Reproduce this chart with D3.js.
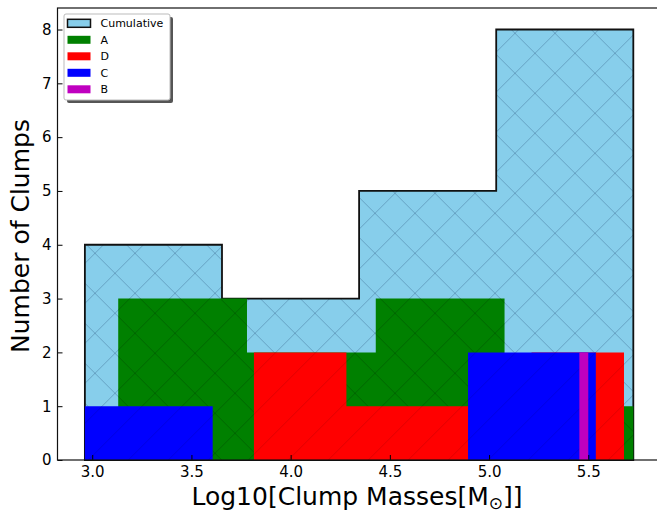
<!DOCTYPE html>
<html>
<head>
<meta charset="utf-8">
<script src="https://cdn.jsdelivr.net/npm/d3@7"></script>
<style>
  html, body { margin: 0; padding: 0; background: #fff; }
  svg { display: block; font-family: "DejaVu Sans", sans-serif; }
  .tick text { font-family: "DejaVu Sans", sans-serif; font-size: 15px; fill: #000; }
  .tick line { stroke: #000; stroke-width: 1; }
</style>
</head>
<body>
<svg id="chart" width="657" height="514"></svg>
<script>
// bin edges (log10 mass) and counts per histogram
const cumulativeEdges = [2.963, 3.654, 4.345, 5.036, 5.727];
const cumulativeCounts = [4, 3, 5, 8];
const aEdges = [3.131, 3.780, 4.429, 5.078, 5.727];
const aCounts = [3, 2, 3, 1];
const dEdges = [3.815, 4.281, 4.748, 5.214, 5.680];
const dCounts = [2, 1, 1, 2];
const cEdges = [2.963, 3.607, 4.251, 4.894, 5.538];
const cCounts = [1, 0, 0, 2];
const bEdges = [5.455, 5.500];
const bCounts = [2];

const xTicks = [3.0, 3.5, 4.0, 4.5, 5.0, 5.5];
const yTicks = [0, 1, 2, 3, 4, 5, 6, 7, 8];

const series = [
  { name: "Cumulative", edges: cumulativeEdges, counts: cumulativeCounts, color: "#87ceeb", hatch: "hatch-cum", outline: true },
  { name: "A", edges: aEdges, counts: aCounts, color: "#008000", hatch: "hatch-x-dark" },
  { name: "D", edges: dEdges, counts: dCounts, color: "#ff0000", hatch: "hatch-slash" },
  { name: "C", edges: cEdges, counts: cCounts, color: "#0000ff", hatch: "hatch-slash" },
  { name: "B", edges: bEdges, counts: bCounts, color: "#bf00bf", hatch: null }
];

const svg = d3.select("#chart");
const plot = { left: 57.5, top: 8, right: 660.7, bottom: 460 };

const x = d3.scaleLinear().domain([2.825, 5.865]).range([plot.left, plot.right]);
const y = d3.scaleLinear().domain([0, 8.4]).range([plot.bottom, plot.top]);

// hatch patterns (fixed origin so every histogram shares the same grid)
const defs = svg.append("defs");
function addHatch(id, color, both) {
  const p = defs.append("pattern")
    .attr("id", id)
    .attr("patternUnits", "userSpaceOnUse")
    .attr("x", 15).attr("y", 13.3)
    .attr("width", 40).attr("height", 40);
  p.append("path")
    .attr("d", "M-10,50 L50,-10 M-10,10 L10,-10 M30,50 L50,30")
    .attr("stroke", color).attr("stroke-width", 1).attr("fill", "none");
  if (both) {
    p.append("path")
      .attr("d", "M-10,-10 L50,50 M30,-10 L50,10 M-10,30 L10,50")
      .attr("stroke", color).attr("stroke-width", 1).attr("fill", "none");
  }
}
addHatch("hatch-cum", "rgba(40,80,120,0.35)", true);
addHatch("hatch-x-dark", "rgba(0,0,0,0.2)", true);
addHatch("hatch-slash", "rgba(0,0,0,0.12)", false);

// step outline of a histogram, closed along the baseline
function stepPath(edges, counts) {
  const pts = [[edges[0], 0]];
  counts.forEach((c, i) => {
    pts.push([edges[i], c]);
    pts.push([edges[i + 1], c]);
  });
  pts.push([edges[edges.length - 1], 0]);
  return d3.line().x(d => x(d[0])).y(d => y(d[1]))(pts);
}

const bars = svg.append("g").attr("class", "bars");
series.forEach(s => {
  const d = stepPath(s.edges, s.counts) + "Z";
  bars.append("path").attr("d", d).attr("fill", s.color);
  if (s.hatch) {
    bars.append("path").attr("d", d).attr("fill", `url(#${s.hatch})`);
  }
  if (s.outline) {
    bars.append("path").attr("d", d)
      .attr("fill", "none")
      .attr("stroke", "#111")
      .attr("stroke-width", 1.8)
      .attr("stroke-linejoin", "miter");
  }
});

// axes, ticks pointing inwards
svg.append("g")
  .attr("transform", `translate(0,${plot.bottom})`)
  .call(d3.axisBottom(x).tickValues(xTicks).tickFormat(d3.format(".1f"))
    .tickSizeInner(-5).tickSizeOuter(0).tickPadding(6))
  .call(g => g.attr("font-family", null).attr("font-size", null))
  .call(g => g.select(".domain").remove())
  .call(g => g.selectAll("text").attr("dy", "0.71em").attr("y", 6));

svg.append("g")
  .attr("transform", `translate(${plot.left},0)`)
  .call(d3.axisLeft(y).tickValues(yTicks).tickFormat(d3.format("d"))
    .tickSizeInner(-5).tickSizeOuter(0).tickPadding(6))
  .call(g => g.attr("font-family", null).attr("font-size", null))
  .call(g => g.select(".domain").remove());

// spines
svg.append("rect")
  .attr("x", plot.left).attr("y", plot.top)
  .attr("width", plot.right - plot.left).attr("height", plot.bottom - plot.top)
  .attr("fill", "none").attr("stroke", "#111").attr("stroke-width", 1.2);

// axis labels
svg.append("text")
  .attr("transform", "translate(28.5,236) rotate(-90)")
  .attr("text-anchor", "middle")
  .attr("font-size", 25)
  .text("Number of Clumps");

const xl = svg.append("text")
  .attr("x", 357).attr("y", 505)
  .attr("text-anchor", "middle")
  .attr("font-size", 25);
xl.append("tspan").text("Log10[Clump Masses[M");
xl.append("tspan").attr("font-size", 17).attr("dy", 4).text("\u2299");
xl.append("tspan").attr("dy", -4).text("]]");

// legend
const legend = svg.append("g").attr("class", "legend");
const lg = { x: 64, y: 14, w: 106, h: 86 };
legend.append("rect")
  .attr("x", lg.x + 3).attr("y", lg.y + 3)
  .attr("width", lg.w).attr("height", lg.h)
  .attr("rx", 2).attr("fill", "#555");
legend.append("rect")
  .attr("x", lg.x).attr("y", lg.y)
  .attr("width", lg.w).attr("height", lg.h)
  .attr("rx", 2).attr("fill", "#fff")
  .attr("stroke", "#bbb").attr("stroke-width", 1);

const rows = legend.selectAll("g.row")
  .data(series)
  .enter()
  .append("g")
  .attr("class", "row")
  .attr("transform", (d, i) => `translate(0,${23.3 + i * 16.5})`);

rows.append("rect")
  .attr("x", 67.5).attr("y", -4)
  .attr("width", 23).attr("height", 8)
  .attr("fill", d => d.color)
  .attr("stroke", d => d.outline ? "#111" : "none")
  .attr("stroke-width", 1.5);

rows.append("text")
  .attr("x", 100.5).attr("y", 4)
  .attr("font-size", 11)
  .text(d => d.name);
</script>
</body>
</html>
